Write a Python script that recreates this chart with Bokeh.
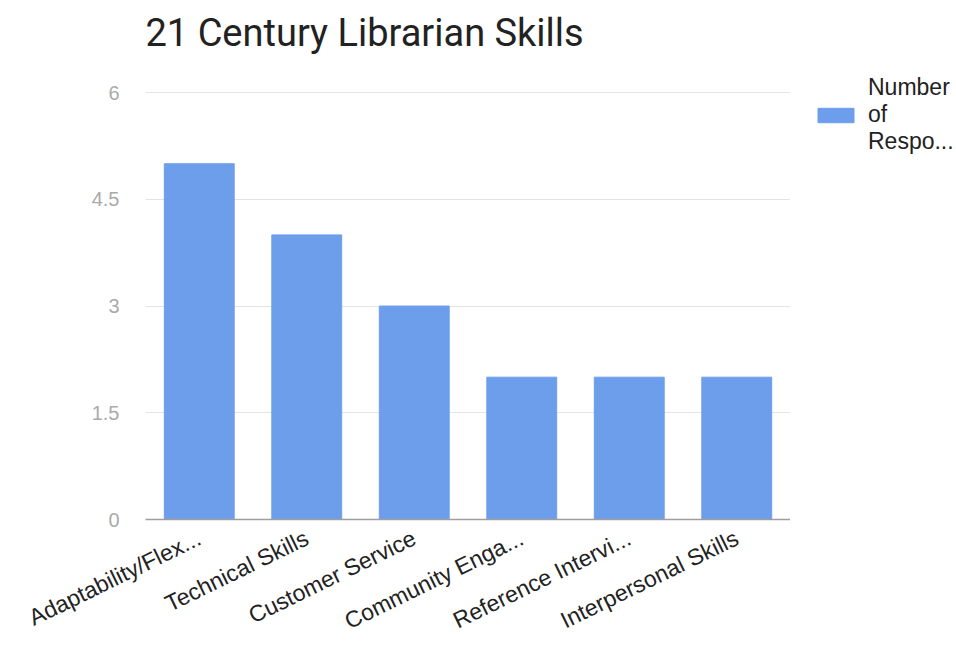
import math
from bokeh.plotting import figure
from bokeh.layouts import row, column
from bokeh.models import FixedTicker, Legend, LegendItem, ColumnDataSource, Range1d
from bokeh.embed import file_html
from bokeh.resources import INLINE

categories = ["Adaptability/Flex...", "Technical Skills", "Customer Service",
              "Community Enga...", "Reference Intervi...", "Interpersonal Skills"]
responses = [5, 4, 3, 2, 2, 2]
y_ticks = [0, 1.5, 3, 4.5, 6]
y_tick_labels = ["0", "1.5", "3", "4.5", "6"]
series_name = "Number\nof\nRespo..."
title_text = "21 Century Librarian Skills"
bar_color = "#6d9eeb"

src = ColumnDataSource(data=dict(cat=categories, val=responses))

# title strip
tf = figure(width=790, height=60, output_backend="svg", toolbar_location=None,
            x_range=Range1d(0, 1), y_range=Range1d(0, 1),
            min_border_left=145, min_border_right=0, min_border_top=54,
            min_border_bottom=0, outline_line_color=None)
tf.axis.visible = False
tf.grid.visible = False
tf.title.text = title_text
tf.title.text_font = "Roboto"
tf.title.text_font_size = "38px"
tf.title.text_font_style = "normal"
tf.title.text_color = "#222222"
tf.title.offset = 0
tf.title.standoff = 0

p = figure(width=790, height=588, x_range=categories, y_range=Range1d(0, 6.015),
           output_backend="svg", toolbar_location=None,
           min_border_left=145, min_border_right=0, min_border_top=31,
           min_border_bottom=129)

r = p.vbar(x="cat", top="val", width=0.65, source=src, color=bar_color)

p.outline_line_color = None
p.background_fill_color = "white"
p.border_fill_color = "white"
p.x_range.range_padding = 0

p.xgrid.grid_line_color = None
p.ygrid.grid_line_color = "#e3e3e3"
p.ygrid.ticker = FixedTicker(ticks=y_ticks)

p.yaxis.ticker = FixedTicker(ticks=y_ticks)
p.yaxis.major_label_overrides = {t: l for t, l in zip(y_ticks, y_tick_labels)}
p.yaxis.axis_line_color = None
p.yaxis.major_tick_line_color = None
p.yaxis.minor_tick_line_color = None
p.yaxis.major_label_text_color = "#aaaaaa"
p.yaxis.major_label_text_font = "Liberation Sans"
p.yaxis.major_label_text_font_size = "20px"
p.yaxis.major_label_standoff = 20

p.xaxis.axis_line_color = "#9e9e9e"
p.xaxis.axis_line_width = 1.5
p.xaxis.major_tick_line_color = None
p.xaxis.minor_tick_line_color = None
p.xaxis.major_label_orientation = math.radians(26)
p.xaxis.major_label_text_color = "#222222"
p.xaxis.major_label_text_font = "Liberation Sans"
p.xaxis.major_label_text_font_size = "23px"
p.xaxis.major_label_text_line_height = 0.5
p.xaxis.major_label_standoff = 11

# legend panel (separate figure so the wrapped label is not clipped)
lg = figure(width=166, height=648, output_backend="svg", toolbar_location=None,
            x_range=categories, y_range=Range1d(0, 1),
            min_border_left=23, min_border_top=74, min_border_right=0,
            min_border_bottom=0, outline_line_color=None)
lg.axis.visible = False
lg.grid.visible = False
lr = lg.vbar(x="cat", top="val", width=0.65, source=src, color=bar_color,
             visible=False)
legend = Legend(items=[LegendItem(label=series_name, renderers=[lr])],
                location="top_left", border_line_color=None,
                background_fill_alpha=0,
                margin=0, padding=0, glyph_width=45, glyph_height=18,
                label_text_font="Liberation Sans", label_text_font_size="23px",
                label_text_color="#222222", label_standoff=10,
                label_text_line_height=1.15)
lg.add_layout(legend, "center")

layout = row(column(tf, p), lg)
open("out.html", "w").write(file_html(layout, INLINE))
